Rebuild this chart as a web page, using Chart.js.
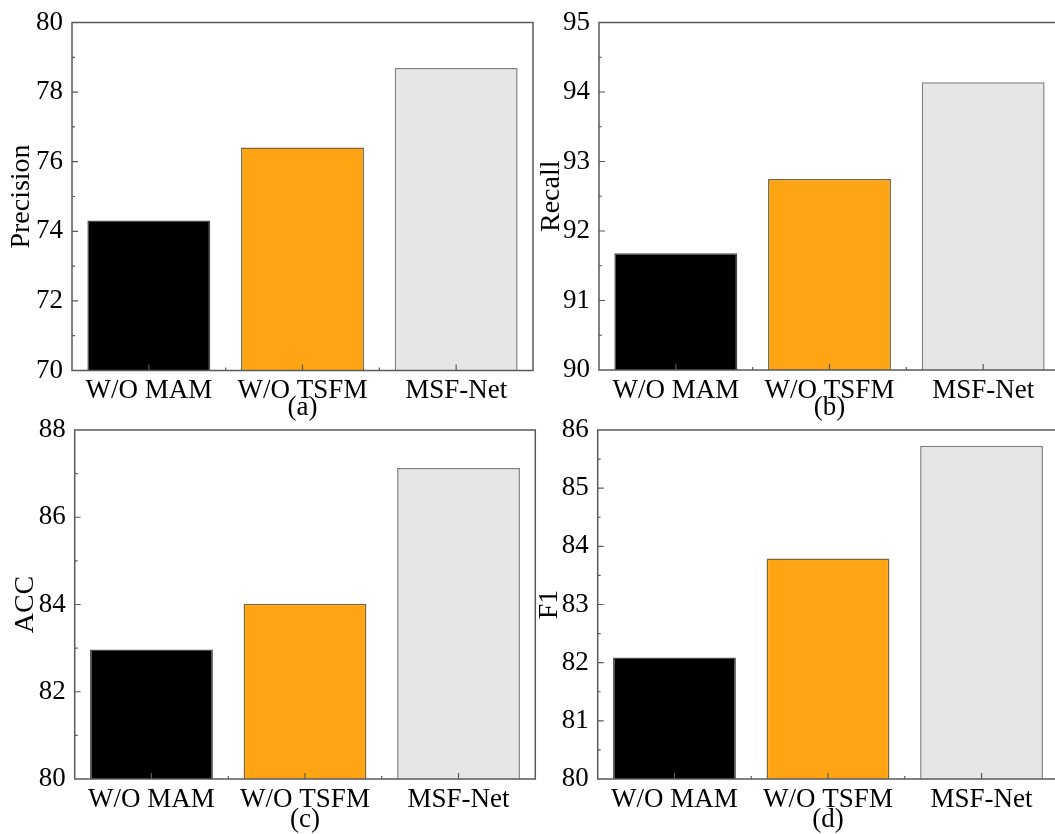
<!DOCTYPE html>
<html>
<head>
<meta charset="utf-8">
<title>Ablation results</title>
<script src="https://cdn.jsdelivr.net/npm/chart.js@4.4.0/dist/chart.umd.min.js"></script>
<style>
  body { margin: 0; background: #fff; overflow: hidden; }
  #page { position: relative; width: 1055px; height: 834px; overflow: hidden; background: #fff; }
  canvas { position: absolute; }
</style>
</head>
<body>
<div id="page">
  <canvas id="chartA" width="540" height="440" style="left:0px;top:0px"></canvas>
  <canvas id="chartB" width="540" height="440" style="left:530px;top:0px"></canvas>
  <canvas id="chartC" width="540" height="434" style="left:0px;top:400px"></canvas>
  <canvas id="chartD" width="540" height="434" style="left:530px;top:400px"></canvas>
</div>
<script>
// data
const methods = ['W/O MAM', 'W/O TSFM', 'MSF-Net'];
const precision = [74.31, 76.41, 78.69];
const recall = [91.68, 92.75, 94.14];
const acc = [82.97, 84.02, 87.13];
const f1 = [82.09, 83.79, 85.73];

// y axis [min, max, step]
const precisionAxis = [70, 80, 2];
const recallAxis = [90, 95, 1];
const accAxis = [80, 88, 2];
const f1Axis = [80, 86, 1];

const fillColors = ['#000000', '#FFA513', '#E6E6E6'];
const edgeColors = ['#4a4a4a', '#7d6535', '#808080'];

const serif = 'Liberation Serif';
const tickFont = { family: serif, size: 27, lineHeight: 1 };
const titleFont = { family: serif, size: 28, lineHeight: 1 };

// box frame plus inward major/minor ticks
const frameTicks = {
  id: 'frameTicks',
  afterDraw(chart, args, opts) {
    const { ctx, chartArea: a, scales: { x, y } } = chart;
    ctx.save();
    ctx.strokeStyle = '#5a5a5a';
    ctx.lineWidth = 1.5;
    ctx.strokeRect(a.left, a.top, a.right - a.left, a.bottom - a.top);
    ctx.lineWidth = 1.2;
    ctx.beginPath();
    const half = opts.step / 2;
    const n = Math.round((y.max - y.min) / half);
    for (let k = 1; k < n; k++) {
      const py = y.getPixelForValue(y.min + k * half);
      const len = k % 2 === 0 ? 6 : 3;
      ctx.moveTo(a.left, py);
      ctx.lineTo(a.left + len, py);
    }
    for (let i = 0; i < methods.length; i++) {
      const px = x.getPixelForValue(i);
      ctx.moveTo(px, a.bottom);
      ctx.lineTo(px, a.bottom - 6);
      if (i > 0) {
        const mx = (px + x.getPixelForValue(i - 1)) / 2;
        ctx.moveTo(mx, a.bottom);
        ctx.lineTo(mx, a.bottom - 3);
      }
    }
    ctx.stroke();
    ctx.restore();
  }
};

function makeChart(id, label, values, axis, letter, L) {
  return new Chart(document.getElementById(id), {
    type: 'bar',
    data: {
      labels: methods,
      datasets: [{
        data: values,
        backgroundColor: fillColors,
        borderColor: edgeColors,
        borderWidth: 1.5,
        barPercentage: 0.8,
        categoryPercentage: 1.0
      }]
    },
    options: {
      responsive: false,
      animation: false,
      devicePixelRatio: 1,
      layout: { padding: { top: L.top, right: L.right, left: 0, bottom: 0 } },
      plugins: {
        legend: { display: false },
        tooltip: { enabled: false },
        frameTicks: { step: axis[2] }
      },
      scales: {
        x: {
          grid: { display: false, drawTicks: false },
          border: { display: false },
          ticks: { color: '#000', font: tickFont, padding: 7, maxRotation: 0, autoSkip: false },
          title: { display: true, text: letter, color: '#000', font: tickFont, padding: { top: 0, bottom: L.xTitle } },
          afterFit(s) { s.height = L.xHeight; }
        },
        y: {
          min: axis[0],
          max: axis[1],
          grid: { display: false, drawTicks: false },
          border: { display: false },
          ticks: { stepSize: axis[2], color: '#000', font: tickFont, padding: 9 },
          title: { display: true, text: label, color: '#000', font: titleFont, padding: { top: L.yTitle, bottom: 0 } },
          afterFit(s) { s.width = L.yWidth; }
        }
      }
    },
    plugins: [frameTicks]
  });
}

makeChart('chartA', 'Precision', precision, precisionAxis, '(a)',
  { top: 22, right: 7, yWidth: 72, xHeight: 69.5, xTitle: 18.5, yTitle: 8 });
makeChart('chartB', 'Recall', recall, recallAxis, '(b)',
  { top: 21.5, right: 10, yWidth: 69, xHeight: 70, xTitle: 18.5, yTitle: 8 });
makeChart('chartC', 'ACC', acc, accAxis, '(c)',
  { top: 30, right: 4.7, yWidth: 74.7, xHeight: 55, xTitle: 0.5, yTitle: 12 });
makeChart('chartD', 'F1', f1, f1Axis, '(d)',
  { top: 30, right: 11.7, yWidth: 67.7, xHeight: 55, xTitle: 0.5, yTitle: 6 });
</script>
</body>
</html>
